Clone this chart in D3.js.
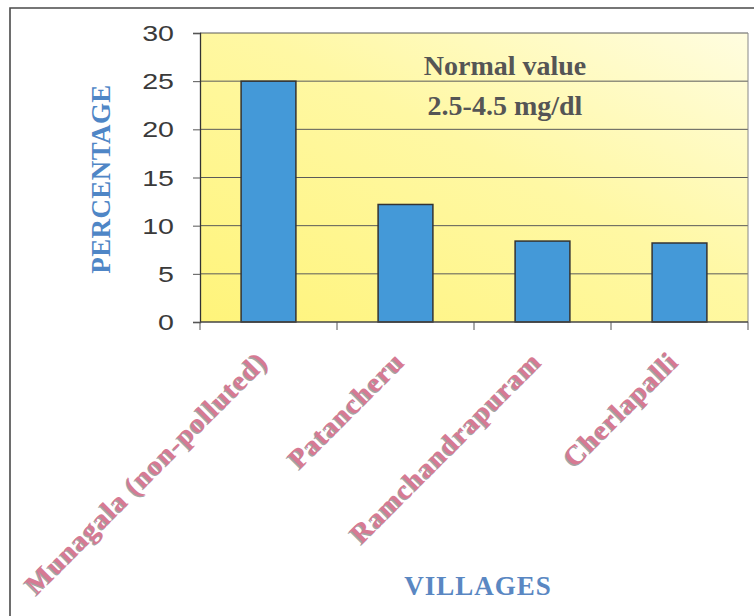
<!DOCTYPE html>
<html>
<head>
<meta charset="utf-8">
<script src="https://cdn.jsdelivr.net/npm/d3@7"></script>
<style>
  html, body { margin: 0; padding: 0; background: #fff; }
  svg { display: block; }
</style>
</head>
<body>
<svg id="chart" width="754" height="616"></svg>
<script>
// ---- data ----
const categories = ["Munagala (non-polluted)", "Patancheru", "Ramchandrapuram", "Cherlapalli"];
const values = [25, 12.2, 8.4, 8.2];
const yTicks = [0, 5, 10, 15, 20, 25, 30];
const noteLines = ["Normal value", "2.5-4.5 mg/dl"];
const yTitle = "PERCENTAGE";
const xTitle = "VILLAGES";

// ---- layout ----
const W = 754, H = 616;
const plot = { left: 200, right: 748, top: 33, bottom: 322 };

const svg = d3.select("#chart");

const y = d3.scaleLinear().domain([0, 30]).range([plot.bottom, plot.top]);
const x = d3.scaleBand().domain(categories).range([plot.left, plot.right])
  .paddingInner(0.6).paddingOuter(0.3);

// outer frame
svg.append("path")
  .attr("d", `M10,${H} L10,8 L${W},8`)
  .attr("fill", "none").attr("stroke", "#4a4a4a").attr("stroke-width", 1.6);

// gradient background
const defs = svg.append("defs");
const grad = defs.append("linearGradient").attr("id", "bg")
  .attr("x1", "0").attr("y1", "1").attr("x2", "1").attr("y2", "0");
grad.append("stop").attr("offset", "0").attr("stop-color", "#fff47a");
grad.append("stop").attr("offset", "0.55").attr("stop-color", "#fff8a4");
grad.append("stop").attr("offset", "1").attr("stop-color", "#fffde0");

svg.append("rect")
  .attr("x", plot.left).attr("y", plot.top)
  .attr("width", plot.right - plot.left).attr("height", plot.bottom - plot.top)
  .attr("fill", "url(#bg)");

// gridlines
svg.append("g").selectAll("line").data(yTicks.filter(d => d > 0)).join("line")
  .attr("x1", plot.left).attr("x2", plot.right)
  .attr("y1", d => y(d)).attr("y2", d => y(d))
  .attr("stroke", "#5a5a5a").attr("stroke-width", 1);

// plot border right
svg.append("line").attr("x1", plot.right).attr("x2", plot.right)
  .attr("y1", plot.top).attr("y2", plot.bottom)
  .attr("stroke", "#888").attr("stroke-width", 1);

// bars
svg.append("g").selectAll("rect").data(values).join("rect")
  .attr("x", (d, i) => x(categories[i]))
  .attr("y", d => y(d))
  .attr("width", x.bandwidth())
  .attr("height", d => y(0) - y(d))
  .attr("fill", "#4499d8")
  .attr("stroke", "#333")
  .attr("stroke-width", 1.5);

// y axis
const yAxis = d3.axisLeft(y).tickValues(yTicks).tickSize(7).tickFormat("");
const gy = svg.append("g").attr("transform", `translate(${plot.left},0)`).call(yAxis);
gy.select(".domain").attr("stroke", "#333").attr("stroke-width", 1.3);
gy.selectAll(".tick line").attr("stroke", "#555");

// y tick labels (horizontally stretched like the original)
svg.append("g").selectAll("text").data(yTicks).join("text")
  .attr("transform", d => `translate(174,${y(d) + 8}) scale(1.3,1)`)
  .attr("text-anchor", "end")
  .attr("font-family", "Liberation Sans, Arial, sans-serif")
  .attr("font-size", 22)
  .attr("fill", "#3a3a3a")
  .text(d => d);

// x axis
const step = x.step();
const xBounds = d3.range(categories.length + 1).map(i => plot.left + i * step);
const gx = svg.append("g");
gx.append("line").attr("x1", plot.left).attr("x2", plot.right)
  .attr("y1", plot.bottom).attr("y2", plot.bottom)
  .attr("stroke", "#444").attr("stroke-width", 1.3);
gx.selectAll("line.tk").data(xBounds).join("line").attr("class", "tk")
  .attr("x1", d => d).attr("x2", d => d)
  .attr("y1", plot.bottom).attr("y2", plot.bottom + 8)
  .attr("stroke", "#555");

// x category labels, rotated
const lab = svg.append("g");
categories.forEach((c, i) => {
  const cx = x(c) + x.bandwidth() / 2 + 1;
  const cy = 363;
  lab.append("text")
    .attr("transform", `translate(${cx - 1.2},${cy + 1.4}) rotate(-45)`)
    .attr("text-anchor", "end")
    .attr("font-family", "Liberation Serif, Times New Roman, serif")
    .attr("font-weight", "bold").attr("font-size", 28)
    .attr("letter-spacing", 1.3)
    .attr("fill", "#a5a5a5")
    .text(c);
  lab.append("text")
    .attr("transform", `translate(${cx},${cy}) rotate(-45)`)
    .attr("text-anchor", "end")
    .attr("font-family", "Liberation Serif, Times New Roman, serif")
    .attr("font-weight", "bold").attr("font-size", 28)
    .attr("letter-spacing", 1.3)
    .attr("fill", "#d77a93")
    .text(c);
});

// note inside plot
svg.append("g").selectAll("text").data(noteLines).join("text")
  .attr("x", 505).attr("y", (d, i) => 75 + i * 40)
  .attr("text-anchor", "middle")
  .attr("font-family", "Liberation Serif, Times New Roman, serif")
  .attr("font-weight", "bold").attr("font-size", 28)
  .attr("fill", "#555")
  .text(d => d);

// axis titles
svg.append("text")
  .attr("transform", "translate(110,179) rotate(-90)")
  .attr("text-anchor", "middle")
  .attr("font-family", "Liberation Serif, Times New Roman, serif")
  .attr("font-weight", "bold").attr("font-size", 27)
  .attr("letter-spacing", 0.4)
  .attr("fill", "#4f86c6")
  .text(yTitle);

svg.append("text")
  .attr("x", 478).attr("y", 595)
  .attr("text-anchor", "middle")
  .attr("font-family", "Liberation Serif, Times New Roman, serif")
  .attr("font-weight", "bold").attr("font-size", 27)
  .attr("letter-spacing", 1)
  .attr("fill", "#5a87c2")
  .text(xTitle);
</script>
</body>
</html>
